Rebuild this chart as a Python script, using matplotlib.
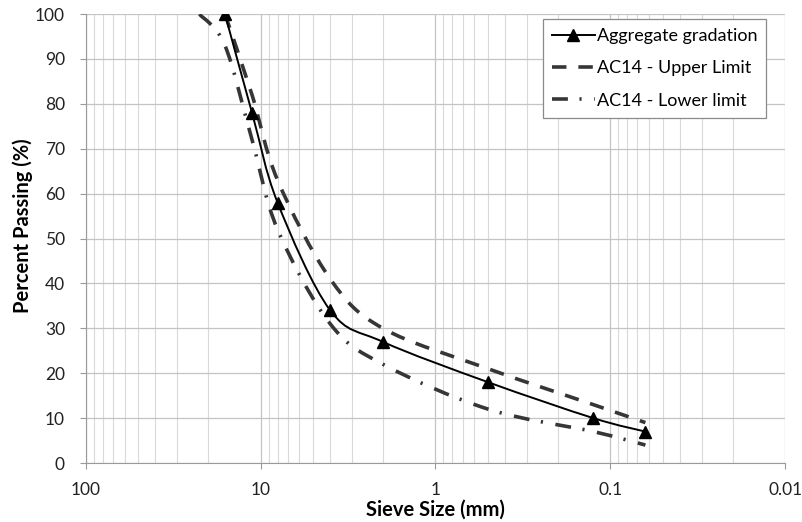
import numpy as np
import matplotlib
matplotlib.use("Agg")
import matplotlib.pyplot as plt
from matplotlib.path import Path
from matplotlib.patches import PathPatch
from matplotlib.lines import Line2D
from matplotlib.ticker import FixedLocator, LogLocator, NullFormatter

plt.rcParams['font.family'] = ['Lato', 'DejaVu Sans']

# sieve sizes (mm) and percent passing
sieve = [16, 11.2, 8, 4, 2, 0.5, 0.125, 0.063]
aggregate = [100, 78, 58, 34, 27, 18, 10, 7]

upper_sieve = [16, 11.2, 8, 4, 2, 0.5, 0.125, 0.063]
upper = [100, 82, 63, 41, 30, 21, 13, 9]

lower_sieve = [22.4, 16, 11.2, 8, 4, 2, 0.5, 0.125, 0.063]
lower = [100, 93, 72, 52, 31, 22, 12, 7, 4]

xticks = [100, 10, 1, 0.1, 0.01]
xticklabels = ['100', '10', '1', '0.1', '0.01']


def smooth_path(xs, ys):
    # Excel-style smoothed line: cubic Bezier through the points in log-x space
    u = np.log10(np.asarray(xs, float))
    v = np.asarray(ys, float)
    n = len(u)
    verts = [(xs[0], ys[0])]
    codes = [Path.MOVETO]
    for i in range(n - 1):
        a = max(i - 1, 0)
        b = min(i + 2, n - 1)
        c1u = u[i] + (u[i + 1] - u[a]) / 6
        c1v = v[i] + (v[i + 1] - v[a]) / 6
        c2u = u[i + 1] - (u[b] - u[i]) / 6
        c2v = v[i + 1] - (v[b] - v[i]) / 6
        verts += [(10 ** c1u, c1v), (10 ** c2u, c2v), (xs[i + 1], ys[i + 1])]
        codes += [Path.CURVE4] * 3
    return Path(verts, codes)


fig = plt.figure(figsize=(8.02, 5.22), dpi=100)
ax = fig.add_axes([0.107, 0.113, 0.872, 0.86])
ax.set_xscale('log')
ax.set_xlim(100, 0.01)
ax.set_ylim(0, 100)

dash_up = (0, (4.0, 3.3))
dash_lo = (0, (4.4, 3.2, 0.6, 3.5))
lcol = '#363636'

ax.add_patch(PathPatch(smooth_path(upper_sieve, upper), fill=False, color=lcol,
                       lw=2.6, linestyle=dash_up, zorder=3))
ax.add_patch(PathPatch(smooth_path(lower_sieve, lower), fill=False, color=lcol,
                       lw=2.6, linestyle=dash_lo, zorder=3))
ax.add_patch(PathPatch(smooth_path(sieve, aggregate), fill=False, color='black',
                       lw=1.4, zorder=4))
ax.plot(sieve, aggregate, linestyle='none', marker='^', ms=9, color='black', zorder=5)

ax.xaxis.set_major_locator(FixedLocator(xticks))
ax.set_xticklabels(xticklabels)
ax.xaxis.set_minor_locator(LogLocator(base=10, subs=np.arange(2, 10)))
ax.xaxis.set_minor_formatter(NullFormatter())
ax.set_yticks(range(0, 101, 10))

ax.grid(which='major', axis='both', color='#c4c4c4', lw=0.9)
ax.grid(which='minor', axis='x', color='#d9d9d9', lw=0.8)
ax.set_axisbelow(True)

for s in ['top', 'right']:
    ax.spines[s].set_visible(False)
for s in ['left', 'bottom']:
    ax.spines[s].set_color('#9a9a9a')
ax.tick_params(which='major', length=4, color='#9a9a9a', labelsize=12.5, labelcolor='#222222')
ax.tick_params(axis='x', which='major', pad=10)
ax.tick_params(axis='y', which='major', pad=11)
ax.tick_params(which='minor', length=0)

ax.set_xlabel('Sieve Size (mm)', fontsize=14.5, fontweight='bold')
ax.set_ylabel('Percent Passing (%)', fontsize=14.5, fontweight='bold')
ax.xaxis.set_label_coords(0.5, -0.082)
ax.yaxis.set_label_coords(-0.075, 0.528)

handles = [Line2D([], [], color='black', lw=1.4, marker='^', ms=8),
           Line2D([], [], color=lcol, lw=2.6, linestyle=dash_up),
           Line2D([], [], color=lcol, lw=2.6, linestyle=dash_lo)]
labels = ['Aggregate gradation', 'AC14 - Upper Limit', 'AC14 - Lower limit']
leg = ax.legend(handles, labels, loc='upper right', bbox_to_anchor=(0.973, 0.989),
                borderaxespad=0, fontsize=13, fancybox=False, edgecolor='#8a8a8a',
                framealpha=1, handlelength=2.4, handletextpad=0.1, borderpad=0.5,
                labelspacing=0.9)
leg.get_frame().set_linewidth(0.9)

plt.savefig("out.png", dpi=100)
